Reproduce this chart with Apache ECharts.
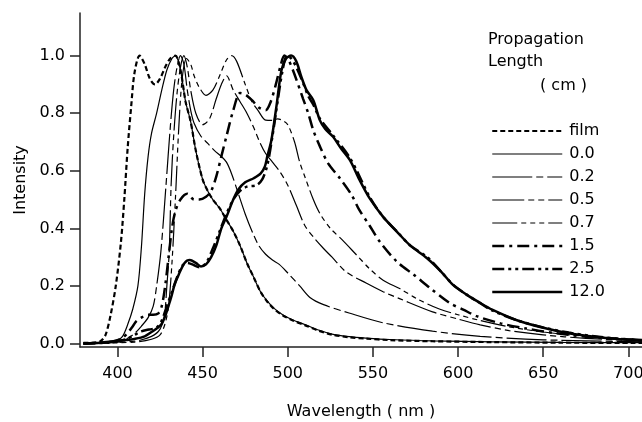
<!DOCTYPE html>
<html><head><meta charset="utf-8">
<script src="https://cdn.jsdelivr.net/npm/echarts@6/dist/echarts.min.js"></script>
<style>html,body{margin:0;padding:0;background:#fff}#c{width:642px;height:422px}</style>
</head><body><div id="c"></div>
<script>
// ---- data ----
const legendNames = ['film', '0.0', '0.2', '0.5', '0.7', '1.5', '2.5', '12.0'];
const xTicks = [400, 450, 500, 550, 600, 650, 700];
const yTicks = [0, 0.2, 0.4, 0.6, 0.8, 1.0];

const filmX = [380, 386, 390, 393, 396, 399, 402, 404, 406, 408, 410, 413, 416, 419, 422, 425, 428, 431, 434, 437, 440, 443, 446, 450, 453, 456, 460, 464, 468, 472, 476, 480, 484, 488, 492, 497, 503, 510, 518, 526, 536, 546, 560, 585, 620, 660, 708];
const filmY = [0.002, 0.003, 0.008, 0.03, 0.1, 0.2, 0.35, 0.5, 0.68, 0.82, 0.94, 1.0, 0.97, 0.92, 0.9, 0.92, 0.96, 0.99, 1.0, 0.95, 0.84, 0.77, 0.67, 0.57, 0.53, 0.5, 0.47, 0.43, 0.39, 0.34, 0.28, 0.23, 0.18, 0.145, 0.12, 0.098, 0.08, 0.064, 0.045, 0.031, 0.022, 0.017, 0.012, 0.008, 0.005, 0.003, 0.002];

const l00X = [380, 390, 395, 400, 403, 406, 409, 412, 414, 416, 418, 420, 423, 426, 429, 432, 434, 437, 440, 443, 446, 450, 453, 456, 460, 464, 468, 472, 476, 480, 484, 488, 492, 497, 503, 510, 518, 526, 536, 546, 560, 585, 620, 660, 708];
const l00Y = [0.0, 0.002, 0.005, 0.012, 0.025, 0.066, 0.12, 0.2, 0.33, 0.52, 0.65, 0.73, 0.8, 0.88, 0.95, 0.99, 1.0, 0.95, 0.84, 0.77, 0.67, 0.57, 0.53, 0.5, 0.47, 0.43, 0.39, 0.34, 0.28, 0.23, 0.18, 0.147, 0.122, 0.1, 0.082, 0.066, 0.047, 0.033, 0.024, 0.019, 0.014, 0.009, 0.006, 0.004, 0.003];

const l02X = [380, 400, 405, 410, 414, 418, 421, 423, 425.5, 428.5, 431, 433, 435, 437, 439, 441, 443, 445, 449, 453, 457, 461, 464, 467, 471, 475, 479, 483, 487, 491, 495, 500, 507, 513, 521, 536, 556, 585, 613, 650, 708];
const l02Y = [0.0, 0.005, 0.015, 0.035, 0.06, 0.09, 0.13, 0.2, 0.32, 0.55, 0.75, 0.88, 0.96, 1.0, 0.97, 0.88, 0.81, 0.765, 0.72, 0.695, 0.67, 0.65, 0.63, 0.59, 0.52, 0.45, 0.39, 0.34, 0.31, 0.29, 0.275, 0.245, 0.2, 0.16, 0.135, 0.106, 0.072, 0.043, 0.025, 0.013, 0.006];

const l05X = [380, 410, 420, 425, 427.6, 429, 430.4, 431.5, 433, 435, 437, 439, 441, 443, 446, 450, 454, 458, 461, 464, 468, 472, 476, 480, 483.5, 487, 491, 495, 500, 505, 510, 515, 521, 526, 534, 546, 556, 566, 585, 600, 613, 630, 650, 675, 708];
const l05Y = [0.0, 0.008, 0.025, 0.05, 0.1, 0.2, 0.32, 0.55, 0.72, 0.87, 0.96, 1.0, 0.96, 0.88, 0.8, 0.76, 0.78, 0.85, 0.9, 0.93, 0.88, 0.84, 0.8, 0.75, 0.7, 0.66, 0.63, 0.6, 0.55, 0.48, 0.41, 0.37, 0.33, 0.3, 0.25, 0.21, 0.18, 0.155, 0.11, 0.085, 0.065, 0.045, 0.03, 0.018, 0.009];

const l07X = [380, 410, 420, 425, 428, 430, 432, 434, 436, 438, 440.5, 443, 445, 448, 452, 456, 460, 464, 467, 470, 475, 479, 482.5, 487, 491, 494, 497, 500, 504, 507, 510, 515, 519, 525, 532, 540, 548, 556, 566, 576, 589, 600, 613, 630, 650, 675, 708];
const l07Y = [0.0, 0.005, 0.015, 0.03, 0.07, 0.13, 0.28, 0.5, 0.75, 0.92, 0.99, 0.97, 0.93, 0.89, 0.862, 0.88, 0.93, 0.985, 1.0, 0.98, 0.9, 0.84, 0.81, 0.776, 0.775, 0.78, 0.775, 0.76, 0.7, 0.63, 0.58, 0.5, 0.45, 0.4, 0.36, 0.31, 0.26, 0.22, 0.19, 0.155, 0.12, 0.1, 0.08, 0.058, 0.04, 0.025, 0.013];

const l15X = [380, 395, 400, 403, 406, 409, 411, 414, 418, 421, 424, 426, 428, 430, 432, 434, 437, 441, 445, 448, 452, 455, 458, 461, 464, 468, 472, 475, 479, 483, 487, 490, 493, 496, 498, 500, 503, 509, 512, 515, 519, 523.7, 530.6, 537.5, 542, 548, 554, 564, 574, 583.5, 595, 603, 611, 625, 640, 656, 675, 708];
const l15Y = [0.0, 0.005, 0.012, 0.02, 0.037, 0.06, 0.077, 0.09, 0.1, 0.1, 0.105, 0.13, 0.2, 0.3, 0.4, 0.46, 0.5, 0.52, 0.5, 0.5, 0.51, 0.53, 0.58, 0.65, 0.72, 0.81, 0.87, 0.865, 0.845, 0.82, 0.81, 0.84, 0.9, 0.97, 1.0, 0.99, 0.95, 0.85, 0.8, 0.74, 0.683, 0.626, 0.574, 0.516, 0.464, 0.41, 0.354, 0.285, 0.239, 0.193, 0.141, 0.118, 0.095, 0.07, 0.052, 0.037, 0.024, 0.012];

const l25X = [380, 395, 400, 405, 410, 414, 417, 420, 423, 426, 429, 432, 435, 438, 441, 444, 448, 452, 456, 460, 464, 468, 472, 476, 481.6, 485, 488, 491, 494, 497, 499.5, 502, 505, 508, 512, 515, 519, 527, 537, 548, 556, 564, 572, 582, 590, 597, 605, 613, 620, 635, 650, 665, 680, 695, 708];
const l25Y = [0.0, 0.003, 0.008, 0.015, 0.03, 0.042, 0.047, 0.05, 0.055, 0.08, 0.13, 0.18, 0.23, 0.27, 0.28, 0.275, 0.265, 0.28, 0.33, 0.39, 0.45, 0.5, 0.53, 0.545, 0.55, 0.57, 0.62, 0.72, 0.84, 0.95, 1.0, 0.99, 0.96, 0.92, 0.86, 0.83, 0.78, 0.72, 0.64, 0.51, 0.44, 0.39, 0.34, 0.3, 0.25, 0.205, 0.17, 0.14, 0.115, 0.08, 0.056, 0.038, 0.025, 0.016, 0.011];

const l120X = [380, 390, 398, 405, 410, 416, 420, 423, 425.7, 428, 429.6, 431.5, 433.5, 436, 439.4, 442.5, 446, 449, 452, 455, 458, 461, 464, 468, 471, 475, 480, 484, 486.5, 488, 490.4, 493.3, 496.3, 499, 502, 505, 508, 511, 515, 518.8, 522, 526.6, 531, 536.5, 542, 548, 556, 564, 572, 581.6, 590, 597, 605, 613, 620, 635, 650, 665, 680, 695, 708];
const l120Y = [0.0, 0.003, 0.008, 0.012, 0.016, 0.025, 0.04, 0.052, 0.066, 0.095, 0.124, 0.16, 0.204, 0.24, 0.28, 0.29, 0.28, 0.268, 0.275, 0.3, 0.34, 0.4, 0.44, 0.5, 0.535, 0.56, 0.574, 0.59, 0.614, 0.65, 0.707, 0.822, 0.949, 0.99, 1.0, 0.98, 0.926, 0.88, 0.845, 0.776, 0.745, 0.718, 0.68, 0.637, 0.57, 0.505, 0.44, 0.389, 0.34, 0.297, 0.25, 0.204, 0.17, 0.141, 0.118, 0.08, 0.055, 0.036, 0.024, 0.015, 0.011];

// ---- build ----
const FONT = 'DejaVu Sans';
const zip = (xs, ys) => xs.map((x, i) => [x, ys[i]]);
const seriesSpec = [
  [filmX, filmY, 2.2, [5, 3]],
  [l00X, l00Y, 1.2, 'solid'],
  [l02X, l02Y, 1.2, [40, 4, 7, 4]],
  [l05X, l05Y, 1.2, [32, 4, 6, 4, 6, 4]],
  [l07X, l07Y, 1.2, [25, 4, 5, 4, 5, 4, 5, 4]],
  [l15X, l15Y, 2.5, [12, 5, 3, 5]],
  [l25X, l25Y, 2.5, [12, 4, 3, 4, 3, 4]],
  [l120X, l120Y, 2.5, 'solid']
];
const series = seriesSpec.map((s, i) => ({
  name: legendNames[i],
  type: 'line',
  data: zip(s[0], s[1]),
  symbol: 'none',
  smooth: 0.3,
  silent: true,
  lineStyle: { color: '#000', width: s[2], type: s[3] },
  itemStyle: { color: '#000' }
}));

const chart = echarts.init(document.getElementById('c'), null, { renderer: 'canvas' });
chart.setOption({
  animation: false,
  backgroundColor: '#fff',
  textStyle: { fontFamily: FONT },
  grid: { left: 80, right: 0, top: 13, bottom: 75, containLabel: false, outerBoundsMode: 'none' },
  xAxis: {
    type: 'value', min: 378, max: 708,
    name: 'Wavelength ( nm )', nameLocation: 'middle', nameGap: 57,
    nameTextStyle: { fontSize: 16, color: '#000', fontFamily: FONT },
    axisLine: { onZero: false, lineStyle: { color: '#222', width: 1.5 } },
    axisTick: { show: true, length: 10, customValues: xTicks, lineStyle: { color: '#222', width: 1.5 } },
    axisLabel: { customValues: xTicks, fontSize: 16, color: '#000', margin: 19, fontFamily: FONT },
    splitLine: { show: false }
  },
  yAxis: {
    type: 'value', min: -0.012, max: 1.148,
    name: 'Intensity', nameLocation: 'middle', nameGap: 50,
    nameTextStyle: { fontSize: 16, color: '#000', fontFamily: FONT },
    axisLine: { show: true, onZero: false, lineStyle: { color: '#222', width: 1.5 } },
    axisTick: { show: true, length: 10, customValues: yTicks, lineStyle: { color: '#222', width: 1.5 } },
    axisLabel: { customValues: yTicks, fontSize: 16, color: '#000', margin: 15, fontFamily: FONT,
      formatter: v => v.toFixed(1) },
    splitLine: { show: false }
  },
  legend: {
    orient: 'vertical', left: 491, top: 123, padding: 0,
    itemWidth: 70, itemHeight: 14, itemGap: 7,
    data: legendNames,
    itemStyle: { color: 'transparent', borderWidth: 0, opacity: 0 },
    lineStyle: { width: 'inherit' },
    textStyle: { fontSize: 16, color: '#000', fontFamily: FONT, lineHeight: 16, padding: [0, 0, 0, 2] },
    selectedMode: false
  },
  graphic: [
    { type: 'text', left: 488, top: 29, style: { text: 'Propagation\nLength', font: '16px "DejaVu Sans"', fill: '#000', lineHeight: 22 } },
    { type: 'text', left: 540, top: 75, style: { text: '( cm )', font: '16px "DejaVu Sans"', fill: '#000', lineHeight: 22 } }
  ],
  series: series
});
</script>
</body></html>
